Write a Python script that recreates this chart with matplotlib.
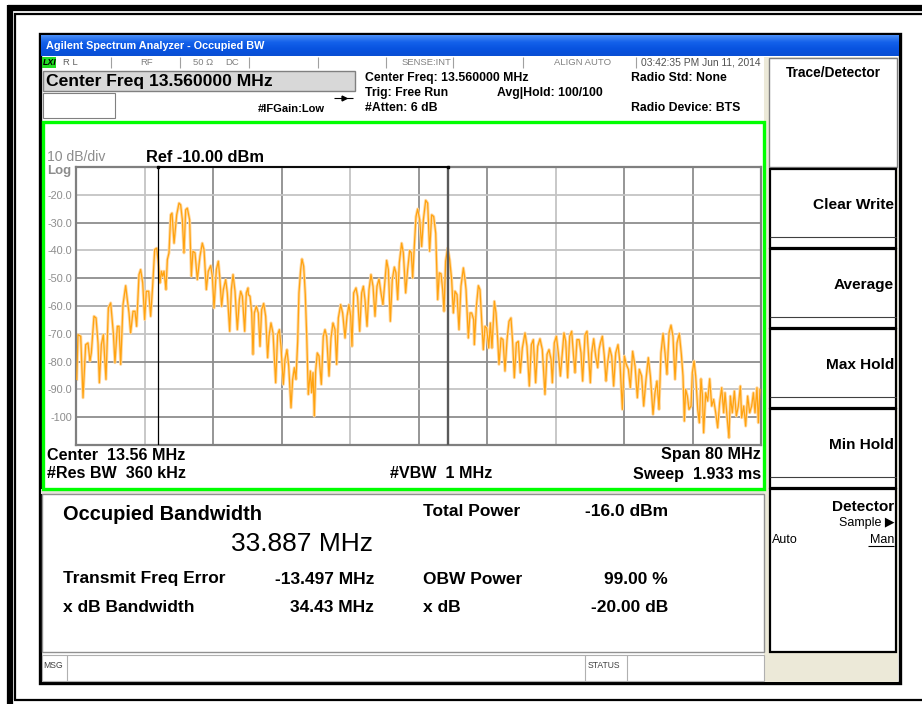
import matplotlib
matplotlib.use('Agg')
import numpy as np
import matplotlib.pyplot as plt
from matplotlib.patches import Rectangle
from matplotlib.colors import LinearSegmentedColormap

plt.rcParams['font.family'] = ['Liberation Sans', 'DejaVu Sans']

# analyzer settings
center_mhz = 13.56
span_mhz = 80.0
ref_dbm = -10.0
db_per_div = 10.0
obw_mhz = 33.887
freq_error_mhz = -13.497

y_levels = [-20, -30, -40, -50, -60, -70, -80, -90, -100]
y_labels = ['-20.0', '-30.0', '-40.0', '-50.0', '-60.0', '-70.0', '-80.0', '-90.0', '-100']

# trace (peaks and dips)
freq_mhz = [
    -26.36, -26.21, -25.89, -25.62, -25.31, -25.04, -24.81, -24.65, -24.34, -24.10,
    -23.87, -23.71, -23.48, -23.25, -22.94, -22.66, -22.39, -22.08, -21.89, -21.61,
    -21.42, -21.22, -20.95, -20.64, -20.45, -20.25, -20.06, -19.78, -19.55, -19.36,
    -19.08, -18.89, -18.65, -18.42, -18.23, -17.95, -17.72, -17.49, -17.25, -17.02,
    -16.86, -16.63, -16.47, -16.32, -16.16, -15.93, -15.77, -15.58, -15.38, -15.23,
    -14.99, -14.68, -14.41, -14.22, -14.02, -13.83, -13.63, -13.44, -13.17, -12.97,
    -12.78, -12.54, -12.27, -11.96, -11.69, -11.49, -11.22, -10.99, -10.71, -10.52,
    -10.32, -10.05, -9.82, -9.66, -9.43, -9.23, -8.96, -8.77, -8.49, -8.30,
    -8.10, -7.87, -7.60, -7.36, -7.21, -7.01, -6.74, -6.55, -6.35,
    -6.31, -6.12, -5.92, -5.77, -5.61, -5.38, -5.15, -4.95, -4.76, -4.52,
    -4.29, -4.06, -3.90, -3.67, -3.43, -3.12, -2.89, -2.69, -2.50, -2.23,
    -2.03, -1.80, -1.60, -1.33, -1.14, -0.94, -0.75, -0.55, -0.40, -0.20,
    -0.05, 0.15, 0.34, 0.50, 0.69, 0.93, 1.08, 1.24, 1.39, 1.55,
    1.74, 1.94, 2.21, 2.44, 2.64, 2.83, 3.11, 3.34, 3.57, 3.81,
    4.00, 4.20, 4.47, 4.70, 4.98, 5.21, 5.44, 5.64, 5.79, 5.99,
    6.26, 6.44, 6.69, 6.92, 7.12, 7.31, 7.55, 7.78, 8.01, 8.25,
    8.48, 8.71, 8.95, 9.18, 9.41, 9.65, 9.84, 10.04, 10.27, 10.50,
    10.74, 10.93, 11.13, 11.32, 11.59, 11.79, 12.06, 12.29, 12.53, 12.72,
    12.88, 13.07, 13.27, 13.46,
    13.70, 13.93, 14.13, 14.40, 14.63, 14.86, 15.10, 15.33, 15.57, 15.80,
    15.99, 16.19, 16.38, 16.54, 16.73, 16.97, 17.20, 17.43, 17.63, 17.82,
    18.06, 18.29, 18.52, 18.80, 18.99, 19.11, 19.38, 19.58, 19.77, 20.00,
    20.08, 20.32, 20.55, 20.74, 20.94, 21.13, 21.33, 21.52, 21.76, 21.95,
    22.14, 22.42, 22.61, 22.81, 22.96, 23.20, 23.43, 23.66, 23.90, 24.13,
    24.36, 24.56, 24.75, 24.99, 25.22, 25.45, 25.69, 26.00, 26.23, 26.50,
    26.74, 26.97, 27.24, 27.48, 27.75, 28.02, 28.33, 28.57, 28.80, 29.04,
    29.19, 29.42, 29.66, 29.89, 30.13, 30.36, 30.55, 30.75, 30.98, 31.22,
    31.45, 31.64, 31.84, 32.07, 32.31, 32.54, 32.73, 33.01, 33.24,
    33.40, 33.63, 33.78, 34.02, 34.25, 34.49, 34.64, 34.80, 35.03, 35.26,
    35.46, 35.65, 35.89, 36.12, 36.35, 36.59, 36.86, 37.09, 37.37, 37.60,
    37.83, 38.07, 38.30, 38.57, 38.85, 39.12, 39.35, 39.62, 39.86, 40.13,
    40.40, 40.64, 40.95, 41.18, 41.41, 41.65, 41.88, 42.12, 42.35, 42.58,
    42.82, 43.05, 43.28, 43.52, 43.75, 44.02, 44.26, 44.45, 44.61, 44.76,
    44.96, 45.15, 45.39, 45.54, 45.74, 45.93, 46.17, 46.36, 46.55, 46.71,
    46.86, 47.10, 47.33, 47.57, 47.80, 48.03, 48.27, 48.50, 48.73, 48.97,
    49.20, 49.36, 49.59, 49.82, 49.98, 50.21, 50.45, 50.68, 50.91, 51.15,
    51.30, 51.54, 51.77, 52.00, 52.24, 52.47, 52.67, 52.86, 53.09, 53.25,
    53.44,
]
level_dbm = [
    -86.4, -70.3, -70.9, -93.0, -73.9, -73.3, -79.8, -76.9, -63.7, -64.3,
    -73.3, -87.6, -73.9, -70.3, -86.4, -60.7, -58.9, -69.7, -80.4, -67.3,
    -67.3, -81.0, -59.5, -52.7, -57.7, -62.5, -69.7, -61.9, -61.9, -67.3,
    -48.7, -46.9, -51.7, -64.9, -54.7, -54.7, -63.7, -52.9, -39.7, -39.2,
    -43.3, -51.7, -47.5, -49.3, -47.5, -54.1, -43.3, -40.9, -27.2, -26.6,
    -37.4, -27.2, -23.0, -23.6, -29.0, -40.9, -25.4, -24.8, -29.0, -49.3,
    -40.3, -40.9, -50.5, -42.1, -37.4, -39.7, -54.1, -47.5, -45.5, -49.3,
    -60.7, -46.9, -43.9, -49.3, -60.1, -54.1, -50.5, -55.3, -69.1, -54.1,
    -48.7, -54.7, -68.5, -57.7, -54.7, -56.5, -69.1, -55.3, -53.5,
    -55.9, -56.5, -62.5, -77.4, -62.5, -60.1, -62.5, -74.5, -61.3, -59.1,
    -63.7, -78.6, -70.9, -66.1, -69.7, -87.6, -70.3, -68.5, -74.5, -88.2,
    -79.2, -75.7, -81.6, -96.6, -86.4, -82.2, -86.4, -72.7, -55.3, -46.9,
    -43.1, -45.7, -55.9, -70.3, -91.8, -83.4, -91.2, -84.0, -99.6, -83.4,
    -76.9, -78.0, -88.2, -70.9, -68.5, -70.9, -85.2, -71.5, -66.1, -68.5,
    -81.0, -64.3, -59.5, -62.5, -71.5, -63.7, -59.5, -63.7, -74.5, -55.3,
    -53.5, -56.5, -69.1, -55.3, -52.9, -57.7, -67.3, -54.1, -48.7, -52.9,
    -63.7, -52.9, -50.3, -55.3, -59.5, -50.5, -43.6, -46.9, -65.5, -50.5,
    -46.0, -48.1, -57.7, -44.5, -37.4, -40.9, -55.3, -46.9, -40.0, -40.9,
    -49.9, -38.6, -27.8, -25.1,
    -29.0, -38.6, -29.0, -22.0, -23.0, -40.3, -27.2, -27.8, -33.8, -57.7,
    -48.1, -48.4, -54.1, -61.9, -43.9, -39.2, -43.3, -50.5, -62.5, -54.7,
    -55.9, -68.5, -52.9, -46.3, -50.5, -54.1, -71.5, -62.5, -62.5, -64.9,
    -73.9, -60.1, -52.7, -54.1, -64.9, -75.7, -67.3, -67.9, -75.1, -66.1,
    -75.1, -58.3, -62.5, -72.1, -81.0, -71.5, -72.1, -83.4, -72.1, -65.5,
    -64.3, -73.3, -85.8, -73.3, -72.7, -84.0, -75.1, -69.7, -74.5, -88.8,
    -73.9, -72.1, -87.6, -74.5, -71.8, -75.7, -91.8, -77.4, -75.7, -79.2,
    -87.6, -73.3, -70.9, -76.9, -85.2, -76.9, -69.7, -72.7, -85.8, -70.9,
    -69.1, -76.9, -84.0, -72.1, -72.1, -76.9, -87.0, -70.3, -69.1,
    -76.9, -87.6, -76.9, -71.8, -78.0, -82.2, -75.7, -73.3, -70.9, -78.0,
    -87.0, -80.4, -75.1, -78.0, -88.8, -76.9, -73.9, -80.4, -97.2, -78.0,
    -81.0, -82.8, -89.4, -76.3, -81.6, -93.0, -82.8, -85.2, -96.0, -86.4,
    -78.6, -85.2, -99.0, -91.2, -87.0, -97.2, -76.9, -69.9, -76.9, -84.6,
    -69.7, -66.9, -70.9, -86.4, -73.3, -69.9, -77.4, -85.2, -101.4, -90.0,
    -92.4, -97.2, -96.0, -84.0, -79.8, -85.2, -97.2, -102.0, -86.2, -91.8,
    -105.6, -91.2, -94.2, -86.2, -96.0, -93.6, -98.4, -103.8, -94.8, -89.4,
    -98.4, -91.2, -99.6, -107.4, -92.4, -98.4, -90.6, -99.6, -96.0, -88.8,
    -100.2, -96.0, -103.2, -92.4, -98.4, -96.0, -91.2, -98.4, -89.4, -102.0,
    -90.0,
]

softkeys = ['Clear Write', 'Average', 'Max Hold', 'Min Hold']

W, H = 922, 704
fig = plt.figure(figsize=(W / 100, H / 100), dpi=100)
fig.patch.set_facecolor('white')

# full-figure canvas in pixel units for the instrument frame
bg = fig.add_axes([0, 0, 1, 1])
bg.axis('off')


def box(x0, y0, x1, y1, fc='none', ec='black', lw=1.0, z=1):
    bg.add_patch(Rectangle((x0, y0), x1 - x0, y1 - y0, facecolor=fc,
                           edgecolor=ec, linewidth=lw, zorder=z))


def hline(x0, x1, y, color='black', lw=1.0, z=2):
    bg.plot([x0, x1], [y, y], color=color, lw=lw, zorder=z, solid_capstyle='butt')


def vline(x, y0, y1, color='black', lw=1.0, z=2):
    bg.plot([x, x], [y0, y1], color=color, lw=lw, zorder=z, solid_capstyle='butt')


def txt(x, y, s, size, weight='normal', color='black', ha='left', **kw):
    bg.text(x, y, s, fontsize=size, fontweight=weight, color=color, ha=ha,
            va='center', zorder=5, **kw)


# outer document frame
hline(8, W, 7.5, lw=4.5)
vline(10, 5, H, lw=4.5)
hline(14, W, 14, lw=1.6)
vline(15, 13, 700, lw=1.6)
hline(14, W, 700, lw=1.6)

# instrument screen
box(39.5, 33.5, 899.5, 683, fc='white', ec='black', lw=2.4, z=1)

# title bar gradient
grad = np.linspace(0, 1, 30).reshape(-1, 1)
cmap = LinearSegmentedColormap.from_list('xp', ['#4a8ef6', '#1461ea', '#0853e0', '#0a4fd4'])
bg.imshow(grad, extent=(41, 898, 56, 35), aspect='auto', cmap=cmap, zorder=2)
txt(46, 46, 'Agilent Spectrum Analyzer - Occupied BW', 7.8, 'bold', 'white')

# status row
box(42, 57, 56, 68, fc='#22dd22', ec='none', z=2)
txt(43, 62.5, 'LXI', 6.3, 'bold', 'black', style='italic')
for sx in [111, 180, 249, 318, 386, 453, 523, 636]:
    vline(sx, 57, 68, color='#a0a0a0', lw=0.8)
txt(63, 62.5, 'R L', 6.8, color='#606060')
txt(140, 62.5, 'RF', 6.8, color='#808080')
txt(193, 62.5, '50 Ω', 6.8, color='#808080')
txt(225, 62.5, 'DC', 6.8, color='#808080')
txt(451, 62.5, 'SENSE:INT', 6.8, color='#808080', ha='right')
txt(583, 62.5, 'ALIGN AUTO', 6.8, color='#808080', ha='center')
txt(641, 62.5, '03:42:35 PM Jun 11, 2014', 7.4, color='#505050')

# center freq entry box
box(43, 71, 355, 91, fc='#d8d8d8', ec='#808080', lw=1.0, z=2)
txt(46, 81.5, f'Center Freq {center_mhz:.6f} MHz', 12.6, 'bold')
box(43, 93, 115, 118, fc='white', ec='#808080', lw=0.8, z=2)
txt(258, 109.5, '#IFGain:Low', 8, 'bold')
hline(334, 353, 97.5, lw=0.8)
bg.plot([343.5], [97.5], marker='>', ms=3.5, color='black', zorder=3)

txt(365, 78, f'Center Freq: {center_mhz:.6f} MHz', 8.8, 'bold')
txt(365, 93, 'Trig: Free Run', 8.8, 'bold')
txt(365, 108, '#Atten: 6 dB', 8.8, 'bold')
txt(497, 93, 'Avg|Hold: 100/100', 8.8, 'bold')
txt(631, 78, 'Radio Std: None', 8.8, 'bold')
txt(631, 108, 'Radio Device: BTS', 8.8, 'bold')

# graticule panel
box(42.5, 121.5, 764, 488.5, fc='white', ec='#00ff00', lw=2.4, z=2)
txt(47, 157, f'{db_per_div:.0f} dB/div', 10.1, color='#8c8c8c')
txt(47, 171, 'Log', 9.5, 'bold', color='#8c8c8c')
txt(146, 157, f'Ref {ref_dbm:.2f} dBm', 11.8, 'bold')
txt(47, 455, f'Center  {center_mhz:.2f} MHz', 11.6, 'bold')
txt(47, 474, '#Res BW  360 kHz', 11.6, 'bold')
txt(390, 474, '#VBW  1 MHz', 11.6, 'bold')
txt(761, 455, f'Span {span_mhz:.0f} MHz', 11.6, 'bold', ha='right')
txt(761, 474, 'Sweep  1.933 ms', 11.6, 'bold', ha='right')

# result panel
box(41, 489, 765, 494, fc='#e6e3da', ec='none', z=1.5)
box(42, 494, 764, 652, fc='white', ec='#909090', lw=1.0, z=2)
txt(63, 515, 'Occupied Bandwidth', 14.4, 'bold')
txt(373, 544, f'{obw_mhz:.3f} MHz', 19, ha='right')
txt(423, 512, 'Total Power', 12.5, 'bold')
txt(668, 512, '-16.0 dBm', 12.5, 'bold', ha='right')
txt(63, 579, 'Transmit Freq Error', 12.5, 'bold')
txt(374, 579, f'{freq_error_mhz:.3f} MHz', 12.5, 'bold', ha='right')
txt(423, 579, 'OBW Power', 12.5, 'bold')
txt(668, 579, '99.00 %', 12.5, 'bold', ha='right')
txt(63, 608, 'x dB Bandwidth', 12.5, 'bold')
txt(374, 608, '34.43 MHz', 12.5, 'bold', ha='right')
txt(423, 608, 'x dB', 12.5, 'bold')
txt(668, 608, '-20.00 dB', 12.5, 'bold', ha='right')

# message / status bar
box(42, 655, 764, 681, fc='white', ec='#b0b0b0', lw=0.8, z=2)
vline(67, 655, 681, color='#b0b0b0', lw=0.8)
vline(585, 655, 681, color='#b0b0b0', lw=0.8)
vline(627, 655, 681, color='#b0b0b0', lw=0.8)
txt(43, 665, 'MSG', 6.2, color='#404040')
txt(588, 665, 'STATUS', 6.2, color='#404040')

# softkey column
box(764, 57, 898, 682, fc='#ece9d8', ec='none', z=1.5)
box(769, 58, 897, 167, fc='white', ec='#808080', lw=1.0, z=2)
txt(833, 73, 'Trace/Detector', 9.9, 'bold', ha='center')
for i, label in enumerate(softkeys):
    top = 169 + i * 80
    box(770, top, 896, top + 79, fc='white', ec='black', lw=1.6, z=2)
    hline(770, 896, top + 68, color='#404040', lw=0.8, z=3)
    txt(894, top + 36, label, 11.1, 'bold', ha='right')
box(770, 489, 896, 652, fc='white', ec='black', lw=1.6, z=2)
txt(894, 507, 'Detector', 11.1, 'bold', ha='right')
txt(894, 523, 'Sample ▶', 9.0, ha='right')
txt(772, 540, 'Auto', 9.0)
txt(894, 540, 'Man', 9.0, ha='right')
hline(868, 894, 546, lw=0.8, z=3)

bg.set_xlim(0, W)
bg.set_ylim(H, 0)

# spectrum graticule
ax = fig.add_axes([76 / W, 1 - 445 / H, 685 / W, 278 / H])
f_lo = center_mhz - span_mhz / 2
f_hi = center_mhz + span_mhz / 2
ax.set_xlim(f_lo, f_hi)
ax.set_ylim(ref_dbm - 10 * db_per_div, ref_dbm)

v_shade = ['#c4c4c4', '#8e8e8e', '#8e8e8e', '#c4c4c4', '#8e8e8e',
           '#8e8e8e', '#c4c4c4', '#8e8e8e', '#8e8e8e']
h_shade = ['#c4c4c4', '#8e8e8e', '#c4c4c4', '#8e8e8e', '#a8a8a8',
           '#c4c4c4', '#8e8e8e', '#c4c4c4', '#8e8e8e']
for k in range(1, 10):
    ax.axvline(f_lo + k * span_mhz / 10, color=v_shade[k - 1], lw=1.3, zorder=1)
for lev, shade in zip(y_levels, h_shade):
    ax.axhline(lev, color=shade, lw=1.3, zorder=1)

ax.plot(freq_mhz, level_dbm, color='#ffd9a3', lw=2.2, zorder=2)
ax.plot(freq_mhz, level_dbm, color='#ffa310', lw=0.9, zorder=3)

# occupied bandwidth markers
obw_lo = center_mhz + freq_error_mhz - obw_mhz / 2
obw_hi = center_mhz + freq_error_mhz + obw_mhz / 2
ax.axvline(obw_lo, color='black', lw=0.9, zorder=4)
ax.axvline(obw_hi, color='#5a5a5a', lw=1.7, zorder=4)
ax.plot([obw_lo, obw_hi], [ref_dbm, ref_dbm], color='black', lw=1.3,
        zorder=5, clip_on=False)
ax.plot([obw_lo, obw_hi], [ref_dbm, ref_dbm], 's', color='black', ms=2,
        zorder=5, clip_on=False)

ax.set_xticks([])
ax.set_yticks(y_levels)
ax.set_yticklabels(y_labels, color='#8c8c8c', fontsize=7.8)
ax.tick_params(axis='y', length=0, pad=3)
for sp in ax.spines.values():
    sp.set_color('#7f7f7f')
    sp.set_linewidth(1.6)

fig.savefig('out.png', dpi=100)
